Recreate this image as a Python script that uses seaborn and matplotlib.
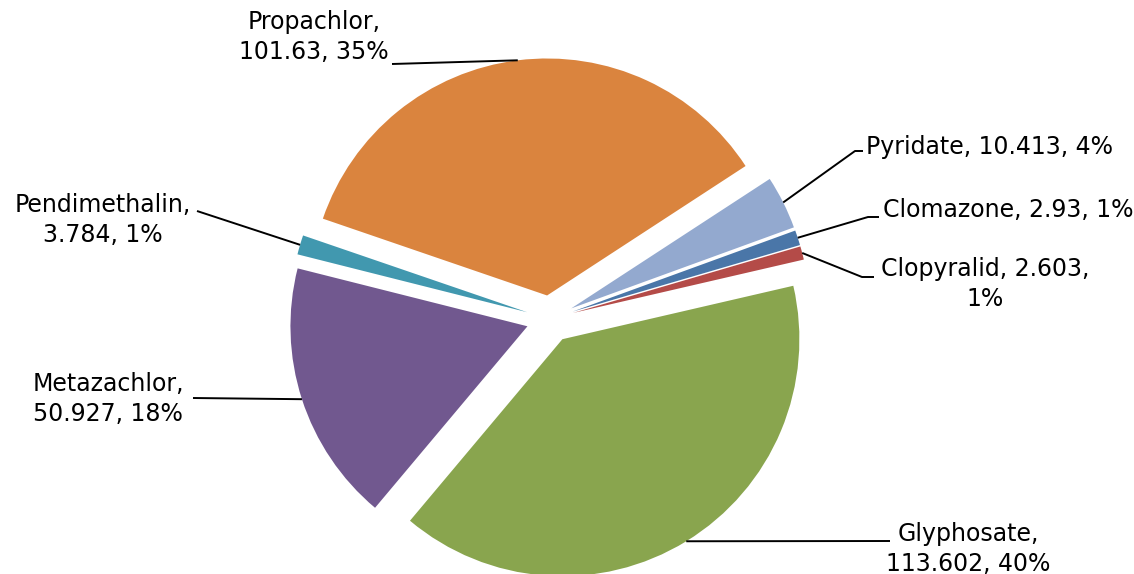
import numpy as np
import matplotlib
matplotlib.use("Agg")
import matplotlib.pyplot as plt
import seaborn as sns


# =====================================
# DATA
# =====================================

herbicides = [
    "Clomazone",
    "Clopyralid",
    "Glyphosate",
    "Metazachlor",
    "Pendimethalin",
    "Propachlor",
    "Pyridate"
]

amounts = [2.93, 2.603, 113.602, 50.927, 3.784, 101.63, 10.413]

percent_labels = ["1%", "1%", "40%", "18%", "1%", "35%", "4%"]

slice_colors = [
    "#4a76a8",
    "#b44b48",
    "#89a54e",
    "#71588f",
    "#4198af",
    "#da843e",
    "#93a9cf"
]


# =====================================
# LABEL LAYOUT (pixel positions)
# =====================================

# text anchor (x, y, ha), elbow point for leader line
label_layout = {
    "Clomazone": ((883, 210, "left"), [(868, 217), (879, 217)]),
    "Clopyralid": ((985, 284, "center"), [(862, 277), (874, 277)]),
    "Glyphosate": ((968, 549, "center"), [(890, 541)]),
    "Metazachlor": ((108, 399, "center"), [(193, 398)]),
    "Pendimethalin": ((103, 220, "center"), [(197, 211)]),
    "Propachlor": ((314, 37, "center"), [(392, 64)]),
    "Pyridate": ((866, 147, "left"), [(855, 151), (863, 151)]),
}

CX, CY, R_PX = 550, 319, 237
W, H = 1134, 574


def px(x, y):
    return (x - CX) / R_PX, (CY - y) / R_PX


# =====================================
# PLOT
# =====================================

sns.set_theme(style="white")
plt.rcParams["font.family"] = ["DejaVu Sans"]

fig = plt.figure(figsize=(11.34, 5.74), dpi=100)
ax = fig.add_axes([0, 0, 1, 1])

wedges, _ = ax.pie(
    amounts,
    colors=slice_colors,
    startangle=20,
    counterclock=False,
    explode=[0.1] * len(amounts),
    radius=1,
    wedgeprops=dict(linewidth=0)
)

for name, value, pct, wedge in zip(herbicides, amounts, percent_labels, wedges):

    if name in ("Clomazone", "Pyridate"):
        text = f"{name}, {value:g}, {pct}"
    elif name == "Clopyralid":
        text = f"{name}, {value:g},\n{pct}"
    else:
        text = f"{name},\n{value:g}, {pct}"

    (tx, ty, ha), elbow = label_layout[name]

    ax.text(
        *px(tx, ty),
        text,
        ha=ha,
        va="center",
        multialignment="center",
        fontsize=17,
        linespacing=1.3,
        color="black"
    )

    mid = np.deg2rad((wedge.theta1 + wedge.theta2) / 2)
    cx, cy = wedge.center
    start = (cx + wedge.r * np.cos(mid), cy + wedge.r * np.sin(mid))
    pts = [start] + [px(x, y) for x, y in elbow]
    ax.plot(
        [p[0] for p in pts],
        [p[1] for p in pts],
        color="black",
        linewidth=1.4,
        solid_capstyle="butt"
    )

ax.set_xlim(-CX / R_PX, (W - CX) / R_PX)
ax.set_ylim(-(H - CY) / R_PX, CY / R_PX)
ax.set_aspect("auto")
ax.axis("off")

plt.savefig("out.png", dpi=100)
plt.close()
